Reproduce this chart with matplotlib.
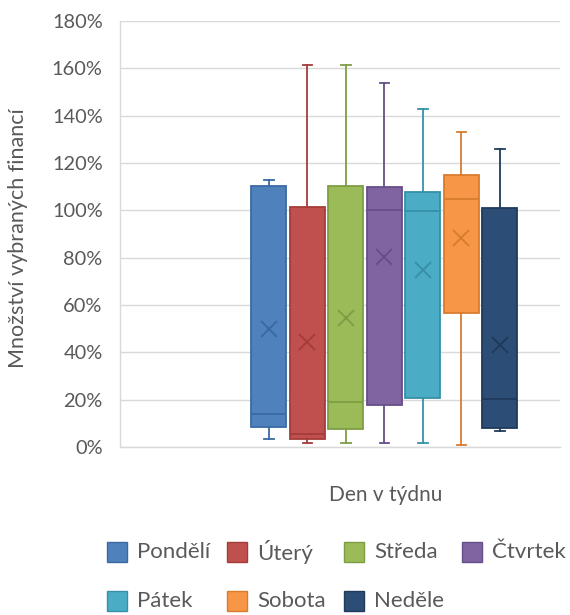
import matplotlib
matplotlib.use("Agg")
import matplotlib.pyplot as plt
from matplotlib.patches import Rectangle
from matplotlib.ticker import FuncFormatter

plt.rcParams['font.family'] = ['Lato', 'DejaVu Sans']

days = ["Pondělí", "Úterý", "Středa", "Čtvrtek", "Pátek", "Sobota", "Neděle"]
whislo = [3.5, 1.8, 1.8, 1.8, 1.8, 0.7, 6.9]
q1 = [8.6, 3.5, 7.5, 17.7, 20.6, 56.5, 8.2]
median = [13.8, 5.5, 19.2, 100.1, 99.8, 104.8, 20.1]
q3 = [110.4, 101.5, 110.3, 109.7, 107.9, 114.9, 101.1]
whishi = [113.0, 161.3, 161.3, 154.0, 142.7, 133.1, 125.9]
mean = [50.0, 44.5, 54.4, 80.4, 74.8, 88.4, 43.1]
yticks = [0, 20, 40, 60, 80, 100, 120, 140, 160, 180]

fills = ["#4F81BD", "#C0504D", "#9BBB59", "#8064A2", "#4BACC6", "#F79646", "#2C4D75"]
edges = ["#3A6AA3", "#A43D3A", "#7E9E45", "#664E88", "#3790A8", "#D87C2E", "#1F3A5C"]

W, H = 570, 615
fig = plt.figure(figsize=(W / 100, H / 100), dpi=100)
ax = fig.add_axes([120 / W, 1 - 447 / H, (560 - 120) / W, (447 - 21) / H])

stats = []
for i in range(len(days)):
    stats.append(dict(label=days[i], whislo=whislo[i], q1=q1[i], med=median[i],
                      q3=q3[i], whishi=whishi[i], mean=mean[i]))

for i in range(len(days)):
    ec = edges[i]
    ax.bxp([stats[i]], positions=[i], widths=0.91, patch_artist=True,
           showmeans=True, showfliers=False,
           boxprops=dict(facecolor=fills[i], edgecolor=ec, linewidth=1.3),
           medianprops=dict(color=ec, linewidth=1.3),
           whiskerprops=dict(color=ec, linewidth=1.3),
           capprops=dict(color=ec, linewidth=1.3),
           capwidths=0.25,
           meanprops=dict(marker='x', markeredgecolor=ec, markersize=12,
                          markeredgewidth=1.4),
           manage_ticks=False)

ax.set_xlim(-3.87, 7.56)
ax.set_ylim(0, 180)
ax.set_yticks(yticks)
ax.yaxis.set_major_formatter(FuncFormatter(lambda v, p: f"{v:.0f}%"))
ax.set_xticks([])
ax.tick_params(axis='y', length=0, pad=12.5, labelsize=14.4, labelcolor="#595959")
ax.grid(axis='y', color="#D9D9D9", linewidth=1)
ax.set_axisbelow(True)
for s in ["top", "right"]:
    ax.spines[s].set_visible(False)
for s in ["left", "bottom"]:
    ax.spines[s].set_color("#D9D9D9")
    ax.spines[s].set_linewidth(1)

fig.text(18 / W, 1 - 238 / H, "Množství vybraných financí", rotation=90,
         ha='center', va='center', fontsize=15.5, color="#595959")
fig.text(386 / W, 1 - 495 / H, "Den v týdnu", ha='center', va='center',
         fontsize=15, color="#595959")

# legend
col_x = [107, 227, 344, 462]
row_y = [552, 601]
order = [(0, 0), (0, 1), (0, 2), (0, 3), (1, 0), (1, 1), (1, 2)]
for i, (r, c) in enumerate(order):
    x = col_x[c]
    y = row_y[r]
    fig.add_artist(Rectangle((x / W, 1 - (y + 10) / H), 20 / W, 20 / H,
                             transform=fig.transFigure, facecolor=fills[i],
                             edgecolor=edges[i], linewidth=1))
    fig.text((x + 30) / W, 1 - y / H, days[i], ha='left', va='center',
             fontsize=16, color="#595959")

fig.savefig("out.png", dpi=100, facecolor="white")
